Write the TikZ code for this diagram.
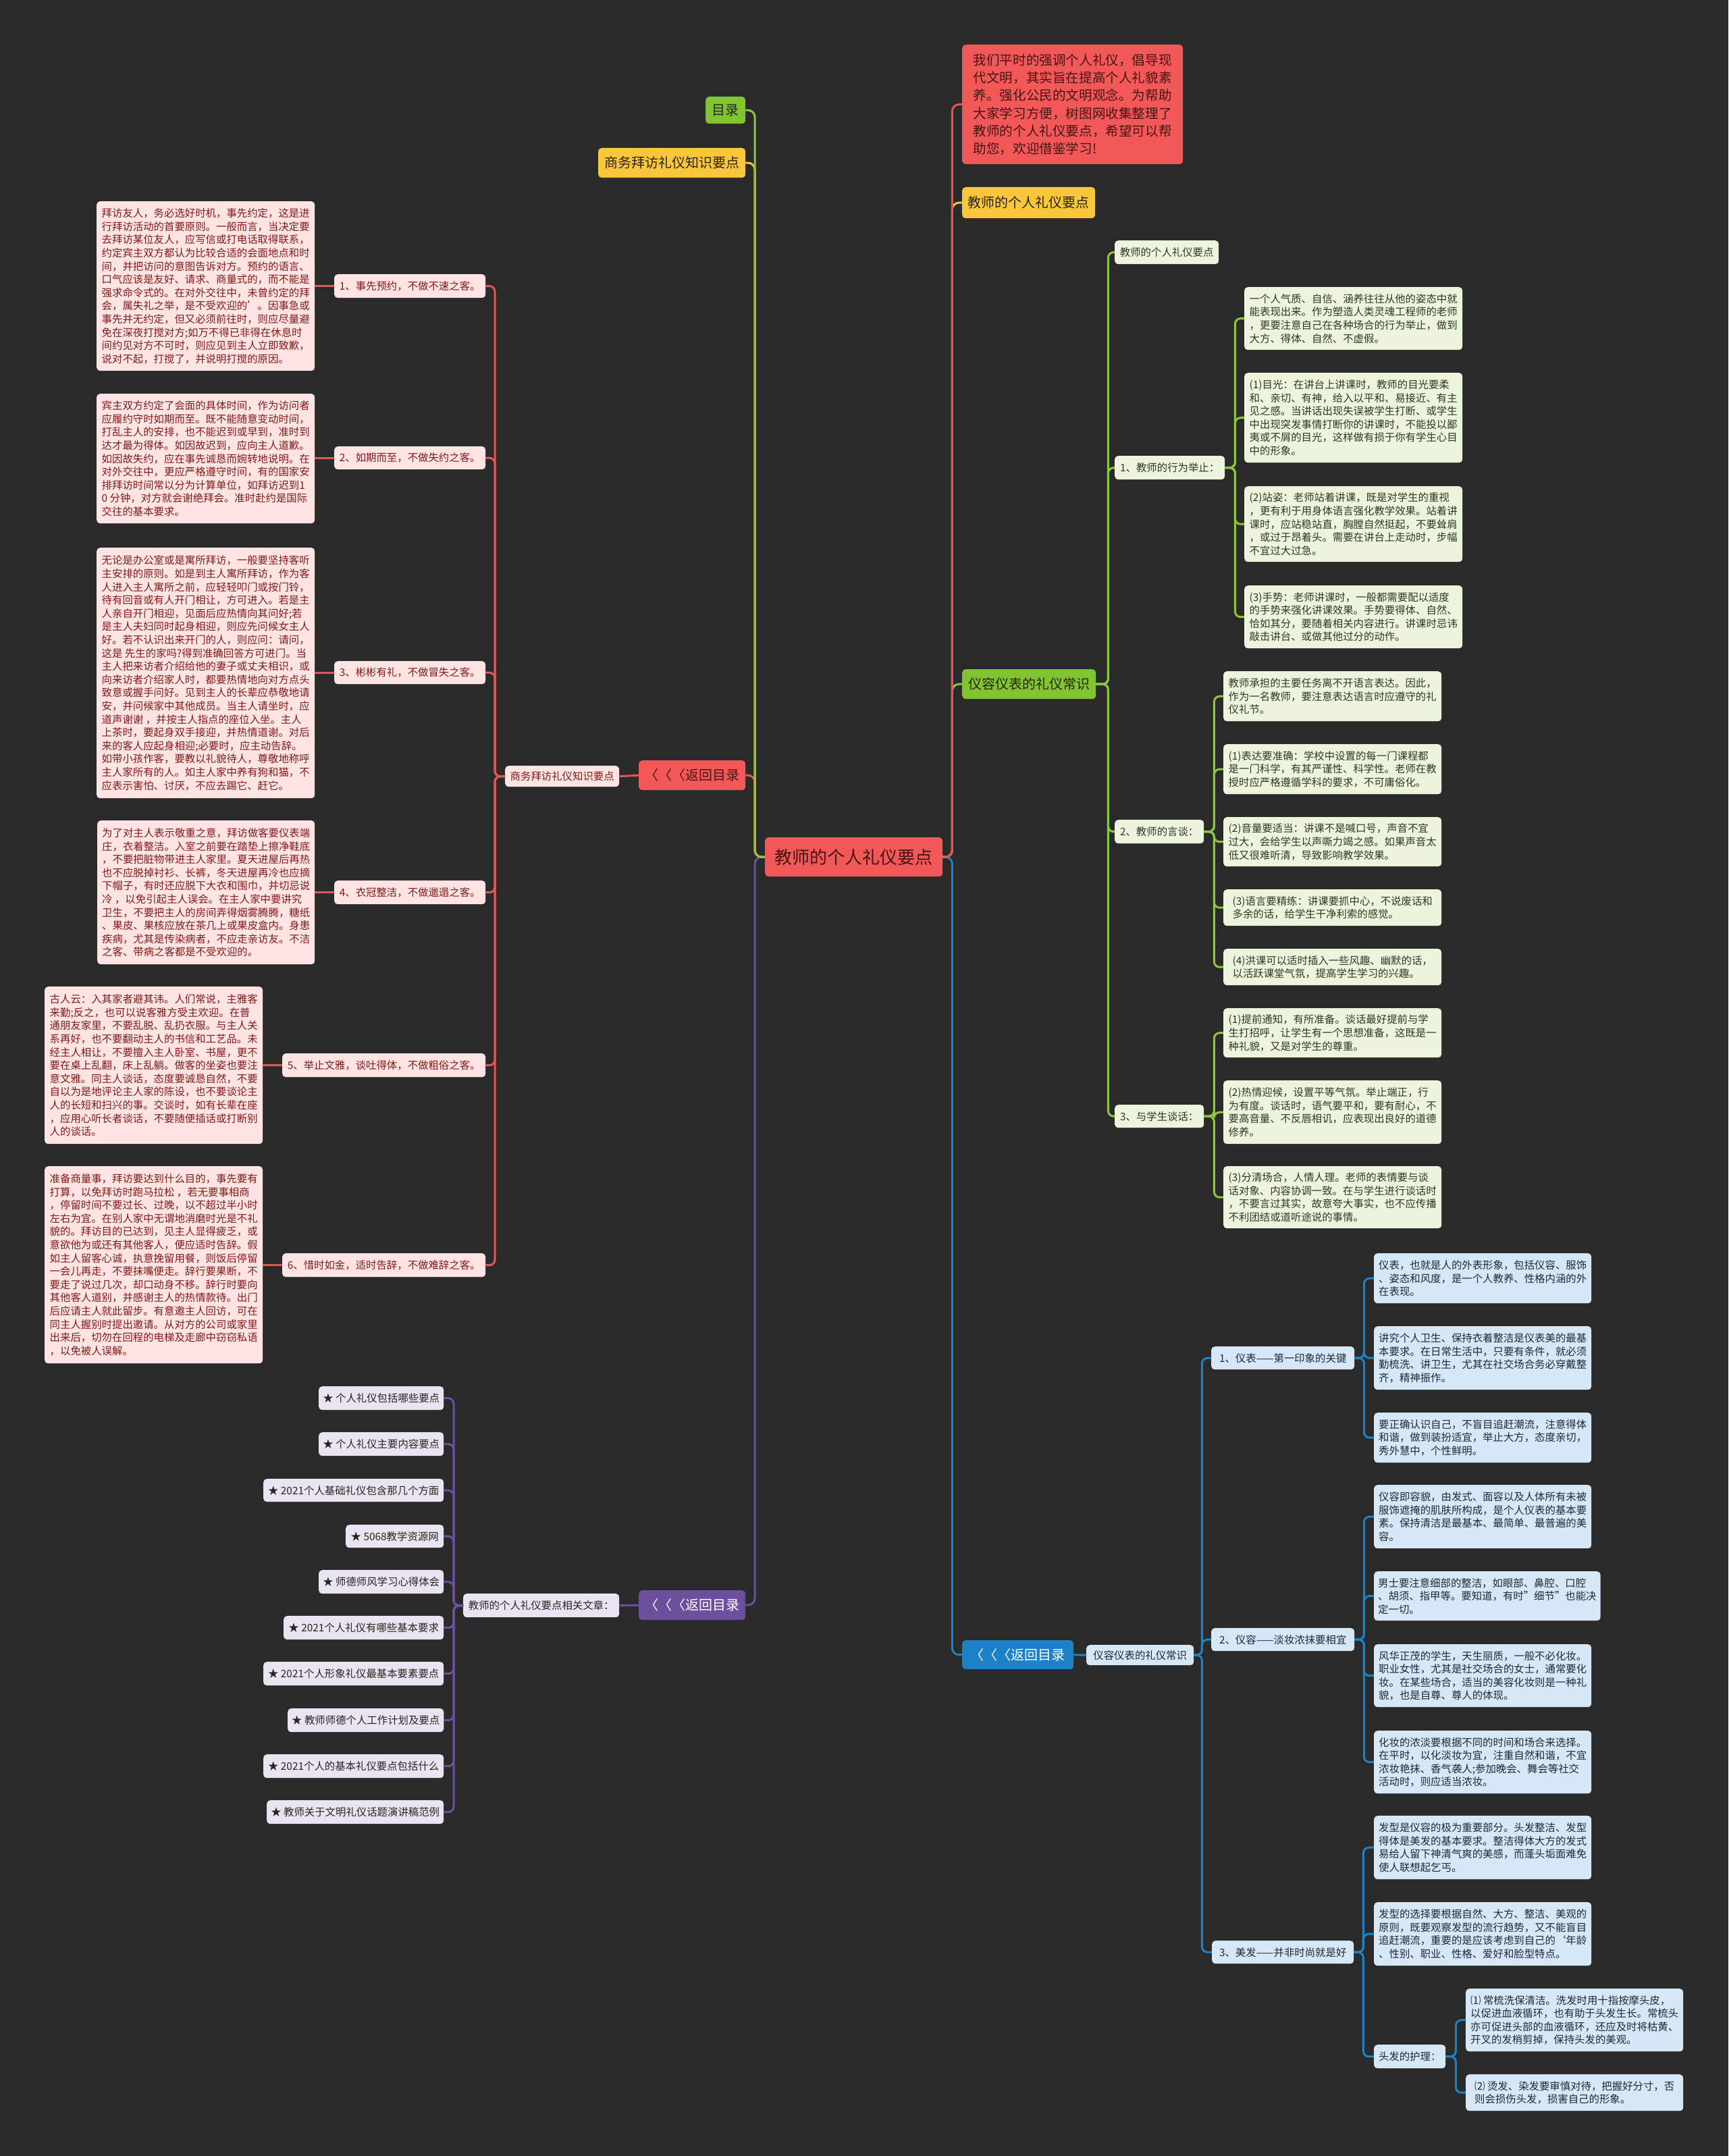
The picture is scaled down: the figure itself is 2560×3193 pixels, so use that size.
\documentclass[tikz,border=0pt]{standalone}
\usepackage{fontspec}
\setmainfont{Noto Sans CJK SC}
\definecolor{bg}{RGB}{42,42,42}
\definecolor{cred}{RGB}{242,88,88}
\definecolor{credtext}{RGB}{70,20,20}
\definecolor{pinkfill}{RGB}{255,228,228}
\definecolor{pinktext}{RGB}{130,25,25}
\definecolor{redline}{RGB}{226,86,90}
\definecolor{cyellow}{RGB}{250,198,58}
\definecolor{cgreen}{RGB}{128,196,48}
\definecolor{greenline}{RGB}{140,200,60}
\definecolor{lgfill}{RGB}{236,244,220}
\definecolor{lgtext}{RGB}{45,55,35}
\definecolor{cpurple}{RGB}{108,80,158}
\definecolor{lpfill}{RGB}{232,228,242}
\definecolor{cblue}{RGB}{30,130,200}
\definecolor{lbfill}{RGB}{214,232,246}
\definecolor{lbtext}{RGB}{30,40,55}
\definecolor{darktext}{RGB}{40,36,30}
\begin{document}
\begin{tikzpicture}[x=1pt,y=-1pt,
  bb/.style n args={4}{anchor=north west, at={(#1,#2)}, minimum width=#3-#1, minimum height=#4-#2},
  nd/.style={rounded corners=5, inner xsep=6, inner ysep=3, align=left},
  fs/.style={font=\fontsize{15.4}{19.6}\selectfont},
  fm/.style={font=\fontsize{20}{26}\selectfont},
  pinkbox/.style={nd, fs, fill=pinkfill, text=pinktext},
  greenbox/.style={nd, fs, fill=lgfill, text=lgtext},
  bluebox/.style={nd, fs, fill=lbfill, text=lbtext},
  purplebox/.style={nd, fs, fill=lpfill, text=darktext},
  rednode/.style={nd, fm, fill=cred, text=credtext},
  yellownode/.style={nd, fm, fill=cyellow, text=darktext},
  greennode/.style={nd, fm, fill=cgreen, text=darktext},
  purplenode/.style={nd, fm, fill=cpurple, text=white},
  bluenode/.style={nd, fm, fill=cblue, text=white},
  rl/.style={draw=redline, line width=3, rounded corners=10},
  yl/.style={draw=cyellow, line width=3, rounded corners=10},
  gl/.style={draw=greenline, line width=3, rounded corners=10},
  pl/.style={draw=cpurple, line width=3, rounded corners=10},
  bl/.style={draw=cblue, line width=3, rounded corners=10},
  sgl/.style={draw=greenline, line width=3, rounded corners=8},
  sbl/.style={draw=cblue, line width=3, rounded corners=8},
  srl/.style={draw=redline, line width=3, rounded corners=8},
  spl/.style={draw=cpurple, line width=3, rounded corners=8}
]
\fill[bg] (0,0) rectangle (2560,3193);
\useasboundingbox (0,0) rectangle (2560,3193);

% ---------- centre ----------
\node[nd, fill=cred, text=credtext, font=\fontsize{26}{32}\selectfont, bb={1133}{1240}{1396}{1298}] (center) {教师的个人礼仪要点};

% ---------- left main ----------
\node[greennode, bb={1045}{143}{1104}{183}] (mulu) {目录};
\node[yellownode, bb={886}{219}{1104}{263}] (swzs) {商务拜访礼仪知识要点};
\node[rednode, bb={946}{1126}{1104}{1170}] (ret1) {〈〈〈返回目录};
\node[purplenode, bb={946}{2355}{1104}{2399}] (pret) {〈〈〈返回目录};

\node[pinkbox, bb={748}{1134}{917}{1165}] (swsm) {商务拜访礼仪知识要点};

\node[pinkbox, bb={495}{406}{719}{441}] (l1) {1、事先预约，不做不速之客。};
\node[pinkbox, bb={495}{661}{719}{695}] (l2) {2、如期而至，不做失约之客。};
\node[pinkbox, bb={495}{979}{719}{1013}] (l3) {3、彬彬有礼，不做冒失之客。};
\node[pinkbox, bb={495}{1304}{719}{1339}] (l4) {4、衣冠整洁，不做邋遢之客。};
\node[pinkbox, bb={418}{1560}{719}{1595}] (l5) {5、举止文雅，谈吐得体，不做粗俗之客。};
\node[pinkbox, bb={418}{1856}{719}{1891}] (l6) {6、惜时如金，适时告辞，不做难辞之客。};

\node[pinkbox, bb={143}{298}{466}{549}] (p1) {拜访友人，务必选好时机，事先约定，这是进\\行拜访活动的首要原则。一般而言，当决定要\\去拜访某位友人，应写信或打电话取得联系，\\约定宾主双方都认为比较合适的会面地点和时\\间，并把访问的意图告诉对方。预约的语言、\\口气应该是友好、请求、商量式的，而不能是\\强求命令式的。在对外交往中，未曾约定的拜\\会，属失礼之举，是不受欢迎的\char39\relax 。因事急或\\事先并无约定，但又必须前往时，则应尽量避\\免在深夜打搅对方;如万不得已非得在休息时\\间约见对方不可时，则应见到主人立即致歉，\\说对不起，打搅了，并说明打搅的原因。};
\node[pinkbox, bb={143}{583}{466}{775}] (p2) {宾主双方约定了会面的具体时间，作为访问者\\应履约守时如期而至。既不能随意变动时间，\\打乱主人的安排，也不能迟到或早到，准时到\\达才最为得体。如因故迟到，应向主人道歉。\\如因故失约，应在事先诚恳而婉转地说明。在\\对外交往中，更应严格遵守时间，有的国家安\\排拜访时间常以分为计算单位，如拜访迟到1\\0 分钟，对方就会谢绝拜会。准时赴约是国际\\交往的基本要求。};
\node[pinkbox, bb={143}{811}{466}{1182}] (p3) {无论是办公室或是寓所拜访，一般要坚持客听\\主安排的原则。如是到主人寓所拜访，作为客\\人进入主人寓所之前，应轻轻叩门或按门铃，\\待有回音或有人开门相让，方可进入。若是主\\人亲自开门相迎，见面后应热情向其问好;若\\是主人夫妇同时起身相迎，则应先问候女主人\\好。若不认识出来开门的人，则应问：请问，\\这是 先生的家吗?得到准确回答方可进门。当\\主人把来访者介绍给他的妻子或丈夫相识，或\\向来访者介绍家人时，都要热情地向对方点头\\致意或握手问好。见到主人的长辈应恭敬地请\\安，并问候家中其他成员。当主人请坐时，应\\道声谢谢 ，并按主人指点的座位入坐。主人\\上茶时，要起身双手接迎，并热情道谢。对后\\来的客人应起身相迎;必要时，应主动告辞。\\如带小孩作客，要教以礼貌待人，尊敬地称呼\\主人家所有的人。如主人家中养有狗和猫，不\\应表示害怕、讨厌，不应去踢它、赶它。};
\node[pinkbox, bb={144}{1215}{466}{1428}] (p4) {为了对主人表示敬重之意，拜访做客要仪表端\\庄，衣着整洁。入室之前要在踏垫上擦净鞋底\\，不要把脏物带进主人家里。夏天进屋后再热\\也不应脱掉衬衫、长裤，冬天进屋再冷也应摘\\下帽子，有时还应脱下大衣和围巾，并切忌说\\冷 ，以免引起主人误会。在主人家中要讲究\\卫生，不要把主人的房间弄得烟雾腾腾，糖纸\\、果皮、果核应放在茶几上或果皮盒内。身患\\疾病，尤其是传染病者，不应走亲访友。不洁\\之客、带病之客都是不受欢迎的。};
\node[pinkbox, bb={66}{1461}{389}{1694}] (p5) {古人云：入其家者避其讳。人们常说，主雅客\\来勤;反之，也可以说客雅方受主欢迎。在普\\通朋友家里，不要乱脱、乱扔衣服。与主人关\\系再好，也不要翻动主人的书信和工艺品。未\\经主人相让，不要擅入主人卧室、书屋，更不\\要在桌上乱翻，床上乱躺。做客的坐姿也要注\\意文雅。同主人谈话，态度要诚恳自然，不要\\自以为是地评论主人家的陈设，也不要谈论主\\人的长短和扫兴的事。交谈时，如有长辈在座\\，应用心听长者谈话，不要随便插话或打断别\\人的谈话。};
\node[pinkbox, bb={66}{1727}{389}{2019}] (p6) {准备商量事，拜访要达到什么目的，事先要有\\打算，以免拜访时跑马拉松 ，若无要事相商\\，停留时间不要过长、过晚，以不超过半小时\\左右为宜。在别人家中无谓地消磨时光是不礼\\貌的。拜访目的已达到，见主人显得疲乏，或\\意欲他为或还有其他客人，便应适时告辞。假\\如主人留客心诚，执意挽留用餐，则饭后停留\\一会儿再走，不要抹嘴便走。辞行要果断，不\\要走了说过几次，却口动身不移。辞行时要向\\其他客人道别，并感谢主人的热情款待。出门\\后应请主人就此留步。有意邀主人回访，可在\\同主人握别时提出邀请。从对方的公司或家里\\出来后，切勿在回程的电梯及走廊中窃窃私语\\，以免被人误解。};

% ---------- purple list ----------
\node[purplebox, bb={686}{2360}{917}{2395}] (xgwz) {教师的个人礼仪要点相关文章：};
\node[purplebox, bb={472}{2053}{657}{2088}] (it1) {★ 个人礼仪包括哪些要点};
\node[purplebox, bb={472}{2121}{657}{2156}] (it2) {★ 个人礼仪主要内容要点};
\node[purplebox, bb={390}{2190}{657}{2224}] (it3) {★ 2021个人基础礼仪包含那几个方面};
\node[purplebox, bb={512}{2258}{657}{2292}] (it4) {★ 5068教学资源网};
\node[purplebox, bb={472}{2325}{657}{2360}] (it5) {★ 师德师风学习心得体会};
\node[purplebox, bb={420}{2393}{657}{2428}] (it6) {★ 2021个人礼仪有哪些基本要求};
\node[purplebox, bb={390}{2461}{657}{2496}] (it7) {★ 2021个人形象礼仪最基本要素要点};
\node[purplebox, bb={426}{2530}{657}{2565}] (it8) {★ 教师师德个人工作计划及要点};
\node[purplebox, bb={390}{2598}{657}{2633}] (it9) {★ 2021个人的基本礼仪要点包括什么};
\node[purplebox, bb={395}{2666}{657}{2701}] (it10) {★ 教师关于文明礼仪话题演讲稿范例};

% ---------- right main ----------
\node[nd, fill=cred, text=credtext, font=\fontsize{19.6}{26.3}\selectfont, inner xsep=12, bb={1425}{66}{1752}{243}] (intro) {我们平时的强调个人礼仪，倡导现\\代文明，其实旨在提高个人礼貌素\\养。强化公民的文明观念。为帮助\\大家学习方便，树图网收集整理了\\教师的个人礼仪要点，希望可以帮\\助您，欢迎借鉴学习!};
\node[yellownode, bb={1425}{277}{1622}{323}] (jszd) {教师的个人礼仪要点};
\node[greennode, bb={1425}{991}{1623}{1035}] (yyzs) {仪容仪表的礼仪常识};
\node[bluenode, bb={1425}{2429}{1590}{2472}] (bret) {〈〈〈返回目录};
\node[bluebox, bb={1609}{2436}{1768}{2466}] (bsm) {仪容仪表的礼仪常识};

% ---------- green subtree ----------
\node[greenbox, bb={1651}{356}{1805}{391}] (g0) {教师的个人礼仪要点};
\node[greenbox, bb={1651}{675}{1814}{710}] (g1) {1、教师的行为举止：};
\node[greenbox, bb={1651}{1214}{1783}{1249}] (g2) {2、教师的言谈：};
\node[greenbox, bb={1651}{1636}{1783}{1670}] (g3) {3、与学生谈话：};

\node[greenbox, bb={1843}{425}{2166}{518}] (ga) {一个人气质、自信、涵养往往从他的姿态中就\\能表现出来。作为塑造人类灵魂工程师的老师\\，更要注意自己在各种场合的行为举止，做到\\大方、得体、自然、不虚假。};
\node[greenbox, bb={1843}{552}{2166}{685}] (gb) {(1)目光：在讲台上讲课时，教师的目光要柔\\和、亲切、有神，给入以平和、易接近、有主\\见之感。当讲话出现失误被学生打断、或学生\\中出现突发事情打断你的讲课时，不能投以鄙\\夷或不屑的目光，这样做有损于你有学生心目\\中的形象。};
\node[greenbox, bb={1843}{720}{2166}{832}] (gc) {(2)站姿：老师站着讲课，既是对学生的重视\\，更有利于用身体语言强化教学效果。站着讲\\课时，应站稳站直，胸膛自然挺起，不要耸肩\\，或过于昂着头。需要在讲台上走动时，步幅\\不宜过大过急。};
\node[greenbox, bb={1843}{867}{2166}{960}] (gd) {(3)手势：老师讲课时，一般都需要配以适度\\的手势来强化讲课效果。手势要得体、自然、\\恰如其分，要随着相关内容进行。讲课时忌讳\\敲击讲台、或做其他过分的动作。};

\node[greenbox, bb={1812}{994}{2135}{1068}] (ge) {教师承担的主要任务离不开语言表达。因此，\\作为一名教师，要注意表达语言时应遵守的礼\\仪礼节。};
\node[greenbox, bb={1812}{1102}{2135}{1176}] (gf) {(1)表达要准确：学校中设置的每一门课程都\\是一门科学，有其严谨性、科学性。老师在教\\授时应严格遵循学科的要求，不可庸俗化。};
\node[greenbox, bb={1812}{1210}{2135}{1283}] (gg) {(2)音量要适当：讲课不是喊口号，声音不宜\\过大，会给学生以声嘶力竭之感。如果声音太\\低又很难听清，导致影响教学效果。};
\node[greenbox, bb={1812}{1317}{2135}{1371}] (gh) {(3)语言要精练：讲课要抓中心，不说废话和\\多余的话，给学生干净利索的感觉。};
\node[greenbox, bb={1812}{1405}{2135}{1459}] (gi) {(4)洪课可以适时插入一些风趣、幽默的话，\\以活跃课堂气氛，提高学生学习的兴趣。};

\node[greenbox, bb={1812}{1493}{2135}{1566}] (gj) {(1)提前通知，有所准备。谈话最好提前与学\\生打招呼，让学生有一个思想准备，这既是一\\种礼貌，又是对学生的尊重。};
\node[greenbox, bb={1812}{1600}{2135}{1694}] (gk) {(2)热情迎候，设置平等气氛。举止端正，行\\为有度。谈话时，语气要平和，要有耐心，不\\要高音量、不反唇相讥，应表现出良好的道德\\修养。};
\node[greenbox, bb={1812}{1727}{2135}{1819}] (gl2) {(3)分清场合，人情人理。老师的表情要与谈\\话对象、内容协调一致。在与学生进行谈话时\\，不要言过其实，故意夸大事实，也不应传播\\不利团结或道听途说的事情。};

% ---------- blue subtree ----------
\node[bluebox, bb={1794}{1994}{2006}{2028}] (b1) {1、仪表——第一印象的关键};
\node[bluebox, bb={1794}{2411}{2006}{2445}] (b2) {2、仪容——淡妆浓抹要相宜};
\node[bluebox, bb={1795}{2874}{2005}{2908}] (b3) {3、美发——并非时尚就是好};

\node[bluebox, bb={2035}{1856}{2357}{1930}] (bm) {仪表，也就是人的外表形象，包括仪容、服饰\\、姿态和风度，是一个人教养、性格内涵的外\\在表现。};
\node[bluebox, bb={2035}{1964}{2357}{2058}] (bn) {讲究个人卫生、保持衣着整洁是仪表美的最基\\本要求。在日常生活中，只要有条件，就必须\\勤梳洗、讲卫生，尤其在社交场合务必穿戴整\\齐，精神振作。};
\node[bluebox, bb={2035}{2092}{2357}{2166}] (bo) {要正确认识自己，不盲目追赶潮流，注意得体\\和谐，做到装扮适宜，举止大方，态度亲切，\\秀外慧中，个性鲜明。};
\node[bluebox, bb={2035}{2199}{2357}{2293}] (bp) {仪容即容貌，由发式、面容以及人体所有未被\\服饰遮掩的肌肤所构成，是个人仪表的基本要\\素。保持清洁是最基本、最简单、最普遍的美\\容。};
\node[bluebox, bb={2035}{2327}{2357}{2400}] (bq) {男士要注意细部的整洁，如眼部、鼻腔、口腔\\、胡须、指甲等。要知道，有时"细节"也能决\\定一切。};
\node[bluebox, bb={2035}{2435}{2357}{2528}] (br) {风华正茂的学生，天生丽质，一般不必化妆。\\职业女性，尤其是社交场合的女士，通常要化\\妆。在某些场合，适当的美容化妆则是一种礼\\貌，也是自尊、尊人的体现。};
\node[bluebox, bb={2035}{2563}{2357}{2656}] (bs) {化妆的浓淡要根据不同的时间和场合来选择。\\在平时，以化淡妆为宜，注重自然和谐，不宜\\浓妆艳抹、香气袭人;参加晚会、舞会等社交\\活动时，则应适当浓妆。};
\node[bluebox, bb={2035}{2689}{2357}{2783}] (bt) {发型是仪容的极为重要部分。头发整洁、发型\\得体是美发的基本要求。整洁得体大方的发式\\易给人留下神清气爽的美感，而蓬头垢面难免\\使人联想起乞丐。};
\node[bluebox, bb={2035}{2817}{2357}{2911}] (bu) {发型的选择要根据自然、大方、整洁、美观的\\原则，既要观察发型的流行趋势，又不能盲目\\追赶潮流，重要的是应该考虑到自己的\char96\relax 年龄\\、性别、职业、性格、爱好和脸型特点。};
\node[bluebox, bb={2035}{3028}{2141}{3063}] (hh) {头发的护理：};
\node[bluebox, bb={2171}{2945}{2493}{3038}] (bv) {⑴ 常梳洗保清洁。洗发时用十指按摩头皮，\\以促进血液循环，也有助于头发生长。常梳头\\亦可促进头部的血液循环，还应及时将枯黄、\\开叉的发梢剪掉，保持头发的美观。};
\node[bluebox, bb={2171}{3072}{2493}{3126}] (bw) {⑵ 烫发、染发要审慎对待，把握好分寸，否\\则会损伤头发，损害自己的形象。};

% ---------- connectors ----------
\draw[pl] (center.west) -- ++(-15,0) |- (pret.east);
\draw[rl] (center.west) -- ++(-15,0) |- (ret1.east);
\draw[yl] (center.west) -- ++(-15,0) |- (swzs.east);
\draw[gl] (center.west) -- ++(-15,0) |- (mulu.east);

\draw[bl] (center.east) -- ++(14,0) |- (bret.west);
\draw[gl] (center.east) -- ++(14,0) |- (yyzs.west);
\draw[yl] (center.east) -- ++(14,0) |- (jszd.west);
\draw[rl] (center.east) -- ++(14,0) |- (intro.west);

\draw[srl] (ret1.west) -- (swsm.east);
\foreach \n in {l1,l2,l3,l4,l5,l6}{
  \draw[srl] (swsm.west) -- ++(-15,0) |- (\n.east);
}
\draw[srl] (l1.west) -- (p1.east |- l1.west);
\draw[srl] (l2.west) -- (p2.east |- l2.west);
\draw[srl] (l3.west) -- (p3.east |- l3.west);
\draw[srl] (l4.west) -- (p4.east |- l4.west);
\draw[srl] (l5.west) -- (p5.east |- l5.west);
\draw[srl] (l6.west) -- (p6.east |- l6.west);

\draw[spl] (pret.west) -- (xgwz.east);
\foreach \n in {it1,it2,it3,it4,it5,it6,it7,it8,it9,it10}{
  \draw[spl] (xgwz.west) -- ++(-14,0) |- (\n.east);
}

\foreach \n in {g0,g1,g2,g3}{
  \draw[sgl] (yyzs.east) -- ++(18,0) |- (\n.west);
}
\foreach \n in {ga,gb,gc,gd}{
  \draw[sgl] (g1.east) -- ++(15,0) |- (\n.west);
}
\foreach \n in {ge,gf,gg,gh,gi}{
  \draw[sgl] (g2.east) -- ++(15,0) |- (\n.west);
}
\foreach \n in {gj,gk,gl2}{
  \draw[sgl] (g3.east) -- ++(15,0) |- (\n.west);
}

\draw[sbl] (bret.east) -- (bsm.west);
\foreach \n in {b1,b2,b3}{
  \draw[sbl] (bsm.east) -- ++(12,0) |- (\n.west);
}
\foreach \n in {bm,bn,bo}{
  \draw[sbl] (b1.east) -- ++(14,0) |- (\n.west);
}
\foreach \n in {bp,bq,br,bs}{
  \draw[sbl] (b2.east) -- ++(14,0) |- (\n.west);
}
\foreach \n in {bt,bu,hh}{
  \draw[sbl] (b3.east) -- ++(14,0) |- (\n.west);
}
\foreach \n in {bv,bw}{
  \draw[sbl] (hh.east) -- ++(15,0) |- (\n.west);
}
\end{tikzpicture}
\end{document}
